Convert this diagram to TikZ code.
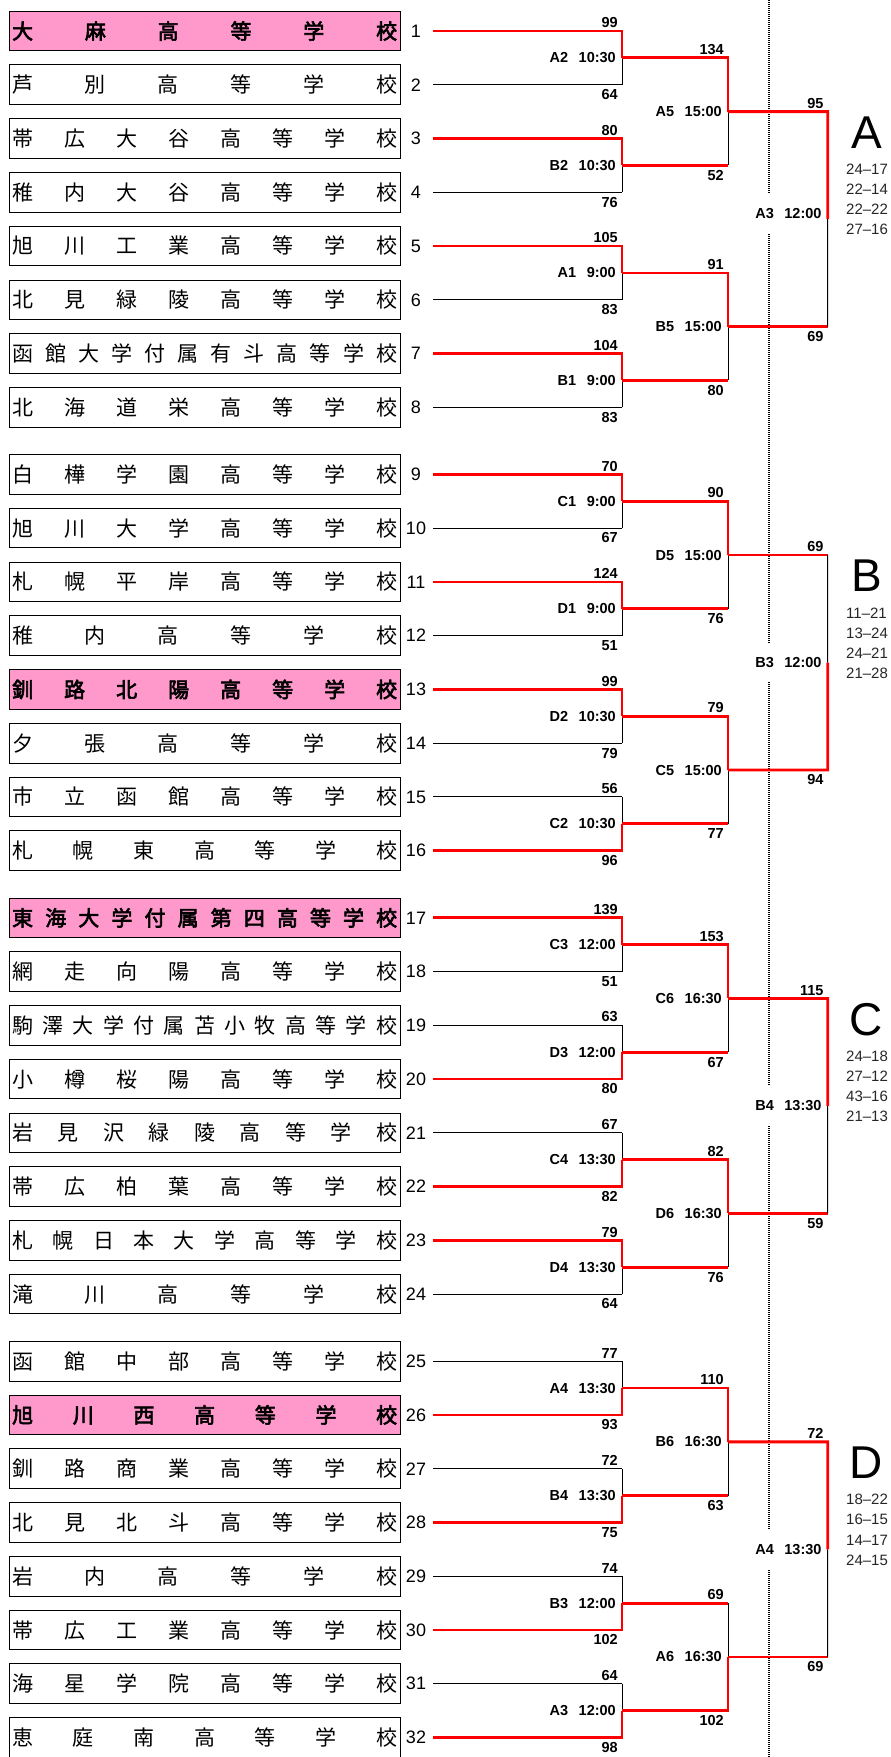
\documentclass[tikz,border=0pt]{standalone}
\usepackage{fontspec}
\setmainfont{Liberation Sans}
\newfontfamily\cjk{Noto Sans CJK JP}
\newfontfamily\cjkbold[AutoFakeBold=3]{Noto Sans CJK JP}
\usetikzlibrary{calc}
\definecolor{teampink}{HTML}{FF99CC}
\definecolor{winred}{HTML}{FF0000}
\def\spreadA#1{\ifx\relax#1\else#1\expandafter\spreadB\fi}
\def\spreadB#1{\ifx\relax#1\else\hfill#1\expandafter\spreadB\fi}
\newcommand\spreadname[1]{\makebox[385pt][s]{\expandafter\spreadA#1\relax}}
\newcommand\ml[2]{#1\hspace*{10.5pt}#2}
\tikzset{
  teambox/.style={draw=black, line width=1pt, minimum width=390.7pt, minimum height=39.6pt, inner sep=0pt, font=\cjk\fontsize{21}{21}\selectfont},
  pinkbox/.style={teambox, fill=teampink, font=\cjkbold\bfseries\fontsize{21}{21}\selectfont},
  numlbl/.style={inner sep=0pt, font=\fontsize{18}{18}\selectfont},
  win/.style={draw=winred, line width=2.8pt},
  lose/.style={draw=black, line width=1pt},
  score/.style={inner sep=0pt, font=\bfseries\fontsize{14.5}{14.5}\selectfont},
  mlabel/.style={inner sep=0pt, anchor=east, font=\bfseries\fontsize{14.5}{14.5}\selectfont},
  finallabel/.style={fill=white, minimum height=39pt},
  dotline/.style={draw=black, line width=1.1pt, dash pattern=on 1pt off 1pt},
  blockletter/.style={inner sep=0pt, font=\fontsize{46}{46}\selectfont},
  blockscore/.style={inner sep=0pt, anchor=west, text=black!85, font=\fontsize{15}{15}\selectfont},
}
% #1 name, #2 top input, #3 bottom input, #4 x reference, #5 winner (1 top / 2 bottom), #6 style of loser's horizontal
\newcommand\drawmatch[6]{%
  \coordinate (#1-a) at (#4 |- #2);
  \coordinate (#1-b) at (#4 |- #3);
  \coordinate (#1) at ($(#1-a)!0.5!(#1-b)$);
  \ifnum#5=1
    \draw[#6] (#3) -- (#1-b);
    \draw[lose] (#1-b) -- (#1);
    \draw[win] (#2) -- (#1-a) -- (#1);
  \else
    \draw[#6] (#2) -- (#1-a);
    \draw[lose] (#1-a) -- (#1);
    \draw[win] (#3) -- (#1-b) -- (#1);
  \fi}
% [#1 label style], #2 name, #3 label, #4 top score, #5 bottom score
\newcommand\matchtext[5][]{%
  \node[mlabel,#1] (#2-lbl) at ($(#2)+(-6,0)$) {#3};
  \node[score, anchor=south east] (#2-st) at ($(#2-a)+(-4,-3)$) {#4};
  \node[score, anchor=north east] (#2-sb) at ($(#2-b)+(-4,4.5)$) {#5};}
\begin{document}
\begin{tikzpicture}[x=1pt,y=-1pt]
\useasboundingbox (0,0) rectangle (891,1757);
\coordinate (X1) at (622,0);
\coordinate (X2) at (728,0);
\coordinate (X3) at (827.7,0);
\coordinate (dtop) at (769,0);
\coordinate (dbot) at (769,1757);
\draw[dotline] (dtop) -- (dbot);
% teams
\foreach \k/\nm/\b in {
  1/大麻高等学校/1, 2/芦別高等学校/0, 3/帯広大谷高等学校/0, 4/稚内大谷高等学校/0,
  5/旭川工業高等学校/0, 6/北見緑陵高等学校/0, 7/函館大学付属有斗高等学校/0, 8/北海道栄高等学校/0,
  9/白樺学園高等学校/0, 10/旭川大学高等学校/0, 11/札幌平岸高等学校/0, 12/稚内高等学校/0,
  13/釧路北陽高等学校/1, 14/夕張高等学校/0, 15/市立函館高等学校/0, 16/札幌東高等学校/0,
  17/東海大学付属第四高等学校/1, 18/網走向陽高等学校/0, 19/駒澤大学付属苫小牧高等学校/0, 20/小樽桜陽高等学校/0,
  21/岩見沢緑陵高等学校/0, 22/帯広柏葉高等学校/0, 23/札幌日本大学高等学校/0, 24/滝川高等学校/0,
  25/函館中部高等学校/0, 26/旭川西高等学校/1, 27/釧路商業高等学校/0, 28/北見北斗高等学校/0,
  29/岩内高等学校/0, 30/帯広工業高等学校/0, 31/海星学院高等学校/0, 32/恵庭南高等学校/0}{
  \pgfmathsetmacro\yy{31+443.4*int((\k-1)/8)+53.76*mod(\k-1,8)}
  \ifnum\b=1
    \node[pinkbox] (n\k) at (204.65,\yy) {\spreadname{\nm}};
  \else
    \node[teambox] (n\k) at (204.65,\yy) {\spreadname{\nm}};
  \fi
  \node[numlbl] (num\k) at (416,\yy) {\k};
  \coordinate (t\k) at (433,\yy);
}
% round 1
\foreach \j/\w/\la/\lb/\sa/\sb in {
  1/1/A2/10:30/99/64, 2/1/B2/10:30/80/76, 3/1/A1/9:00/105/83, 4/1/B1/9:00/104/83,
  5/1/C1/9:00/70/67, 6/1/D1/9:00/124/51, 7/1/D2/10:30/99/79, 8/2/C2/10:30/56/96,
  9/1/C3/12:00/139/51, 10/2/D3/12:00/63/80, 11/2/C4/13:30/67/82, 12/1/D4/13:30/79/64,
  13/2/A4/13:30/77/93, 14/2/B4/13:30/72/75, 15/2/B3/12:00/74/102, 16/2/A3/12:00/64/98}{
  \pgfmathtruncatemacro\ta{2*\j-1}
  \pgfmathtruncatemacro\tb{2*\j}
  \drawmatch{r1-\j}{t\ta}{t\tb}{X1}{\w}{lose}
  \matchtext{r1-\j}{\ml{\la}{\lb}}{\sa}{\sb}
}
% round 2
\foreach \j/\w/\la/\lb/\sa/\sb in {
  1/1/A5/15:00/134/52, 2/1/B5/15:00/91/80, 3/1/D5/15:00/90/76, 4/1/C5/15:00/79/77,
  5/1/C6/16:30/153/67, 6/1/D6/16:30/82/76, 7/1/B6/16:30/110/63, 8/2/A6/16:30/69/102}{
  \pgfmathtruncatemacro\ta{2*\j-1}
  \pgfmathtruncatemacro\tb{2*\j}
  \drawmatch{r2-\j}{r1-\ta}{r1-\tb}{X2}{\w}{win}
  \matchtext{r2-\j}{\ml{\la}{\lb}}{\sa}{\sb}
}
% round 3
\foreach \j/\w/\la/\lb/\sa/\sb/\sh in {
  1/1/A3/12:00/95/69/6, 2/2/B3/12:00/69/94/0, 3/1/B4/13:30/115/59/0, 4/1/A4/13:30/72/69/0}{
  \pgfmathtruncatemacro\ta{2*\j-1}
  \pgfmathtruncatemacro\tb{2*\j}
  \drawmatch{r3-\j}{r2-\ta}{r2-\tb}{X3}{\w}{win}
  \matchtext[finallabel, yshift=\sh pt]{r3-\j}{\ml{\la}{\lb}}{\sa}{\sb}
}
% block letters and results
\foreach \j/\L/\sA/\sB/\sC/\sD in {
  1/A/24–17/22–14/22–22/27–16, 2/B/11–21/13–24/24–21/21–28,
  3/C/24–18/27–12/43–16/21–13, 4/D/18–22/16–15/14–17/24–15}{
  \node[blockletter] (blk\j) at ($(r3-\j)+(38.8,-86.6)$) {\L};
  \node[blockscore] (bs\j-1) at ($(r3-\j)+(18.3,-49.7)$) {\sA};
  \node[blockscore] (bs\j-2) at ($(r3-\j)+(18.3,-29.6)$) {\sB};
  \node[blockscore] (bs\j-3) at ($(r3-\j)+(18.3,-9.5)$) {\sC};
  \node[blockscore] (bs\j-4) at ($(r3-\j)+(18.3,10.6)$) {\sD};
}
\end{tikzpicture}
\end{document}
